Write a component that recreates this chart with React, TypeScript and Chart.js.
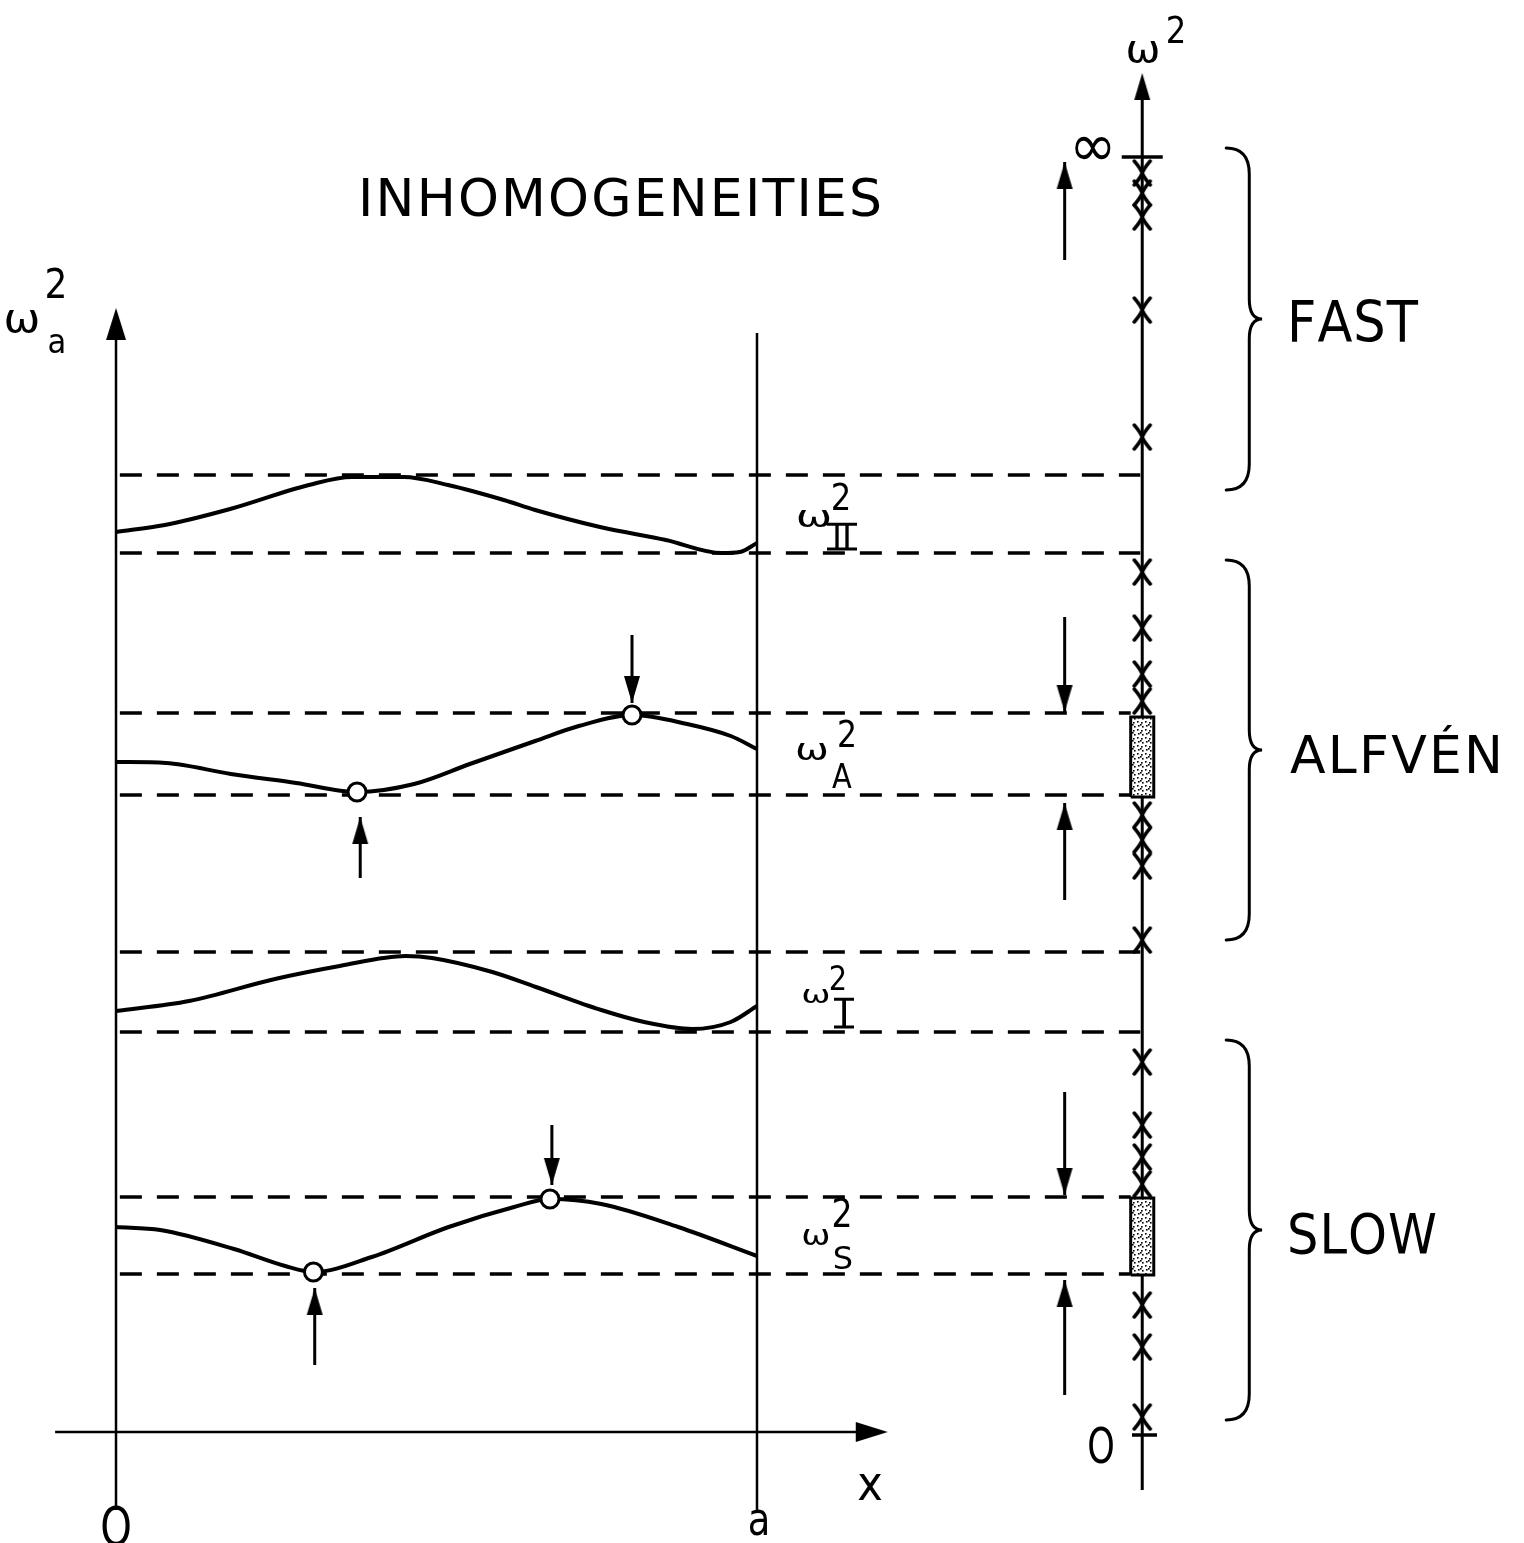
import React, { useEffect, useRef } from "react";
import { Chart, registerables } from "chart.js";

Chart.register(...registerables);

const W = 1524;
const H = 1543;

// Scale domain: x = position across the slab (0 = left wall, 1 = wall "a"), y = ω² (arbitrary units)
const X_MIN = -0.181;
const X_MAX = 2.1966;
const Y_MIN = -1.08;
const Y_MAX = 14.35;

// Continuum profiles ω²(x)
const profileIIx = [0, 0.076, 0.178, 0.301, 0.368, 0.449, 0.518, 0.605, 0.654, 0.755, 0.858, 0.945, 0.973, 1];
const profileIIy = [9.03, 9.1, 9.26, 9.5, 9.58, 9.58, 9.5, 9.35, 9.25, 9.08, 8.95, 8.82, 8.83, 8.92];

const profileAx = [0, 0.078, 0.179, 0.281, 0.376, 0.465, 0.552, 0.654, 0.722, 0.806, 0.891, 0.959, 1];
const profileAy = [6.73, 6.72, 6.61, 6.52, 6.43, 6.51, 6.71, 6.94, 7.09, 7.2, 7.11, 6.99, 6.86];

const profileIx = [0, 0.114, 0.248, 0.349, 0.452, 0.493, 0.587, 0.655, 0.757, 0.824, 0.899, 0.959, 1];
const profileIy = [4.24, 4.34, 4.56, 4.69, 4.79, 4.77, 4.63, 4.48, 4.25, 4.13, 4.06, 4.13, 4.29];

const profileSx = [0, 0.069, 0.184, 0.264, 0.309, 0.399, 0.519, 0.621, 0.678, 0.757, 0.877, 1];
const profileSy = [2.08, 2.05, 1.86, 1.69, 1.63, 1.78, 2.08, 2.28, 2.36, 2.31, 2.08, 1.79];

// Extremes of the Alfvén and slow profiles (circled)
const extremaX = [0.376, 0.805, 0.308, 0.677];
const extremaY = [6.43, 7.2, 1.63, 2.36];

// Range levels (max, min) of each profile
const levelsII = [9.6, 8.82];
const levelsA = [7.22, 6.4];
const levelsI = [4.83, 4.03];
const levelsS = [2.38, 1.61];

// Spectrum axis
const spectrumX = 1.601;
const fastModes = [12.62, 12.42, 12.18, 11.25, 9.98];
const alfvenModes = [8.63, 8.07, 7.61, 7.34, 6.2, 5.95, 5.69, 4.95];
const slowModes = [3.73, 3.1, 2.78, 2.51, 1.3, 0.88, 0.18];
const continuumA = [6.38, 7.18];
const continuumS = [1.6, 2.37];
const infinityLevel = 12.78;
const zeroLevel = 0;

// Arrows (x, from, to)
const arrowX = [0.805, 0.381, 0.68, 0.31, 1.48, 1.48, 1.48, 1.48, 1.48];
const arrowFrom = [8.0, 5.57, 3.1, 0.7, 11.75, 8.18, 5.35, 3.43, 0.4];
const arrowTo = [7.32, 6.18, 2.5, 1.47, 12.73, 7.23, 6.32, 2.4, 1.55];

// Braces (top, bottom) and their labels
const braceTop = [12.87, 8.75, 3.95];
const braceBottom = [9.45, 4.95, 0.15];
const braceLabels = ["FAST", "ALFVÉN", "SLOW"];

const FONT = '"DejaVu Sans", sans-serif';

const zip = (xs: number[], ys: number[]) => xs.map((x, i) => ({ x, y: ys[i] }));

function mkCanvas(w: number, h: number, draw: (g: CanvasRenderingContext2D) => void) {
  const c = document.createElement("canvas");
  c.width = w;
  c.height = h;
  const g = c.getContext("2d")!;
  draw(g);
  return c;
}

function txt(
  ctx: CanvasRenderingContext2D,
  s: string,
  cx: number,
  base: number,
  size: number,
  sx = 1,
  rot = 0
) {
  ctx.save();
  ctx.font = `${size}px ${FONT}`;
  ctx.textAlign = "center";
  ctx.textBaseline = "alphabetic";
  ctx.fillStyle = "#000";
  ctx.translate(cx, base);
  if (rot) ctx.rotate(rot);
  ctx.scale(sx, 1);
  ctx.fillText(s, 0, 0);
  ctx.restore();
}

// Roman numeral subscript: letters with a bar above and below
function roman(ctx: CanvasRenderingContext2D, s: string, cx: number, base: number, size: number, half: number) {
  txt(ctx, s, cx, base, size, 1);
  const cap = size * 0.73;
  ctx.save();
  ctx.strokeStyle = "#000";
  ctx.lineWidth = 3;
  ctx.beginPath();
  ctx.moveTo(cx - half, base - cap);
  ctx.lineTo(cx + half, base - cap);
  ctx.moveTo(cx - half, base);
  ctx.lineTo(cx + half, base);
  ctx.stroke();
  ctx.restore();
}

function spaced(ctx: CanvasRenderingContext2D, s: string, left: number, right: number, base: number, size: number) {
  ctx.save();
  ctx.font = `${size}px ${FONT}`;
  ctx.textAlign = "left";
  ctx.textBaseline = "alphabetic";
  ctx.fillStyle = "#000";
  const chars = Array.from(s);
  const ws = chars.map((c) => ctx.measureText(c).width);
  const nat = ws.reduce((a, b) => a + b, 0);
  let gap = (right - left - nat) / (chars.length - 1);
  let sx = 1;
  if (gap < 1) {
    sx = (right - left - (chars.length - 1)) / nat;
    gap = 1;
  }
  let x = left;
  chars.forEach((c, i) => {
    ctx.save();
    ctx.translate(x, base);
    ctx.scale(sx, 1);
    ctx.fillText(c, 0, 0);
    ctx.restore();
    x += ws[i] * sx + gap;
  });
  ctx.restore();
}

const labelsPlugin = {
  id: "labels",
  afterDraw(chart: any) {
    const ctx: CanvasRenderingContext2D = chart.ctx;
    const xs = chart.scales.x;
    const ys = chart.scales.y;

    // Braces
    ctx.save();
    ctx.strokeStyle = "#000";
    ctx.lineWidth = 3;
    ctx.lineCap = "round";
    const xl = xs.getPixelForValue(1.732);
    const xsp = xs.getPixelForValue(1.768);
    const xt = xs.getPixelForValue(1.788);
    braceTop.forEach((t, i) => {
      const top = ys.getPixelForValue(t);
      const bot = ys.getPixelForValue(braceBottom[i]);
      const mid = (top + bot) / 2;
      const r = 26;
      const rm = 20;
      ctx.beginPath();
      ctx.moveTo(xl, top);
      ctx.quadraticCurveTo(xsp, top, xsp, top + r);
      ctx.lineTo(xsp, mid - rm);
      ctx.quadraticCurveTo(xsp, mid, xt, mid);
      ctx.quadraticCurveTo(xsp, mid, xsp, mid + rm);
      ctx.lineTo(xsp, bot - r);
      ctx.quadraticCurveTo(xsp, bot, xl, bot);
      ctx.stroke();
    });
    ctx.restore();

    // Title and brace labels
    spaced(ctx, "INHOMOGENEITIES", 358, 882, 216, 52);
    spaced(ctx, braceLabels[0], 1287, 1418, 342, 57);
    spaced(ctx, braceLabels[1], 1290, 1503, 773, 52);
    spaced(ctx, braceLabels[2], 1287, 1437, 1253, 55);

    // ω_a² (vertical axis label)
    txt(ctx, "ω", 22, 332, 40, 1.1);
    txt(ctx, "2", 56, 298, 40, 0.9);
    txt(ctx, "a", 57, 353, 34, 0.9);

    // ω_II²
    txt(ctx, "ω", 814, 527, 30, 1.45);
    txt(ctx, "2", 841, 510, 38, 0.85);
    roman(ctx, "II", 842, 549, 34, 15);
    // ω_A²
    txt(ctx, "ω", 812, 760, 30, 1.35);
    txt(ctx, "2", 847, 747, 37, 0.85);
    txt(ctx, "A", 842, 788, 34, 0.85);
    // ω_I²
    txt(ctx, "ω", 816, 1003, 25, 1.4);
    txt(ctx, "2", 838, 990, 34, 0.85);
    roman(ctx, "I", 844, 1027, 38, 10);
    // ω_S²
    txt(ctx, "ω", 816, 1245, 28, 1.25);
    txt(ctx, "2", 842, 1227, 39, 0.85);
    txt(ctx, "S", 843, 1269, 32, 1.0);

    // Abscissa labels
    txt(ctx, "O", 116, 1545, 53, 0.76);
    txt(ctx, "a", 759, 1535, 46, 0.8);
    txt(ctx, "x", 870, 1500, 48, 0.9);

    // Spectrum axis labels
    txt(ctx, "ω", 1143, 62, 38, 1.1);
    txt(ctx, "2", 1176, 43, 38, 0.85);
    txt(ctx, "O", 1101, 1463, 50, 0.7);
    txt(ctx, "∞", 1093, 166, 60, 0.95);
  },
};

export default function App() {
  const ref = useRef<HTMLCanvasElement | null>(null);

  useEffect(() => {
    const canvas = ref.current!;
    const ctx0 = canvas.getContext("2d")!;

    const headBig = mkCanvas(22, 68, (g) => {
      g.fillStyle = "#000";
      g.beginPath();
      g.moveTo(11, 34);
      g.lineTo(21, 66);
      g.lineTo(1, 66);
      g.closePath();
      g.fill();
    });
    const headSmall = mkCanvas(18, 56, (g) => {
      g.fillStyle = "#000";
      g.beginPath();
      g.moveTo(9, 28);
      g.lineTo(17, 55);
      g.lineTo(1, 55);
      g.closePath();
      g.fill();
    });
    const markImg = mkCanvas(22, 28, (g) => {
      g.strokeStyle = "#000";
      g.lineWidth = 3.5;
      g.lineCap = "round";
      g.beginPath();
      g.moveTo(3, 2);
      g.quadraticCurveTo(9, 9, 11, 14);
      g.quadraticCurveTo(13, 9, 19, 2);
      g.moveTo(3, 26);
      g.quadraticCurveTo(9, 19, 11, 14);
      g.quadraticCurveTo(13, 19, 19, 26);
      g.stroke();
    });
    const patCanvas = mkCanvas(8, 8, (g) => {
      g.fillStyle = "#fff";
      g.fillRect(0, 0, 8, 8);
      g.fillStyle = "#000";
      [
        [1, 1],
        [5, 2],
        [2, 5],
        [6, 6],
        [4, 4],
      ].forEach(([a, b]) => g.fillRect(a, b, 1.6, 1.6));
    });
    const pattern = ctx0.createPattern(patCanvas, "repeat");

    const lineDs = (data: any[], extra: any = {}) => ({
      data,
      showLine: true,
      borderColor: "#000",
      borderWidth: 3,
      pointRadius: 0,
      fill: false,
      order: 2,
      ...extra,
    });

    const dashStart = 0.006;
    const dashEndAxis = 1.598;
    const dashEndRect = 1.583;
    const dashed = (lev: number, end: number) =>
      lineDs(
        [
          { x: dashStart, y: lev },
          { x: end, y: lev },
        ],
        { borderDash: [22, 15], borderWidth: 3.5 }
      );

    const rect = (r: number[]) =>
      lineDs(
        [
          { x: 1.583, y: r[0] },
          { x: 1.619, y: r[0] },
          { x: 1.619, y: r[1] },
          { x: 1.583, y: r[1] },
          { x: 1.583, y: r[0] },
        ],
        { fill: "shape", backgroundColor: pattern, borderWidth: 3, order: 1 }
      );

    const curve = (xs: number[], ys: number[]) =>
      lineDs(zip(xs, ys), { borderWidth: 4, cubicInterpolationMode: "monotone", order: 1 });

    const datasets: any[] = [
      // axes
      lineDs([
        { x: 0, y: -0.75 },
        { x: 0, y: 11.0 },
      ], { borderWidth: 2.5 }),
      lineDs([
        { x: 1, y: -0.75 },
        { x: 1, y: 11.02 },
      ], { borderWidth: 2.5 }),
      lineDs([
        { x: -0.095, y: 0.03 },
        { x: 1.18, y: 0.03 },
      ], { borderWidth: 2.5 }),
      lineDs([
        { x: spectrumX, y: -0.55 },
        { x: spectrumX, y: 13.4 },
      ], { borderWidth: 3 }),
      lineDs([
        { x: 1.569, y: infinityLevel },
        { x: 1.633, y: infinityLevel },
      ], { borderWidth: 3.5 }),
      lineDs([
        { x: 1.585, y: zeroLevel },
        { x: 1.624, y: zeroLevel },
      ], { borderWidth: 3.5 }),
      // axis arrowheads
      {
        data: [
          { x: 0, y: 11.27 },
          { x: 1.204, y: 0.03 },
        ],
        pointStyle: headBig,
        pointRotation: [0, 90],
        pointRadius: 6,
        order: 0,
      },
      {
        data: [{ x: spectrumX, y: 13.62 }],
        pointStyle: headSmall,
        pointRadius: 6,
        order: 0,
      },
      // range levels
      dashed(levelsII[0], dashEndAxis),
      dashed(levelsII[1], dashEndAxis),
      dashed(levelsA[0], dashEndRect),
      dashed(levelsA[1], dashEndRect),
      dashed(levelsI[0], dashEndAxis),
      dashed(levelsI[1], dashEndAxis),
      dashed(levelsS[0], dashEndRect),
      dashed(levelsS[1], dashEndRect),
      // profiles
      curve(profileIIx, profileIIy),
      curve(profileAx, profileAy),
      curve(profileIx, profileIy),
      curve(profileSx, profileSy),
      // continua on spectrum
      rect(continuumA),
      rect(continuumS),
      // discrete modes
      {
        data: [...fastModes, ...alfvenModes, ...slowModes].map((y) => ({ x: spectrumX, y })),
        pointStyle: markImg,
        pointRadius: 6,
        order: 0,
      },
      // extrema
      {
        data: zip(extremaX, extremaY),
        pointStyle: "circle",
        pointRadius: 9,
        pointBackgroundColor: "#fff",
        pointBorderColor: "#000",
        pointBorderWidth: 3,
        order: 0,
      },
    ];

    // arrows
    arrowX.forEach((x, i) => {
      datasets.push(
        lineDs([
          { x, y: arrowFrom[i] },
          { x, y: arrowTo[i] },
        ], { borderWidth: 3 })
      );
    });
    datasets.push({
      data: arrowX.map((x, i) => ({ x, y: arrowTo[i] })),
      pointStyle: headSmall,
      pointRotation: arrowX.map((_, i) => (arrowTo[i] < arrowFrom[i] ? 180 : 0)),
      pointRadius: 6,
      order: 0,
    });

    const chart = new Chart(canvas, {
      type: "scatter",
      data: { datasets },
      options: {
        responsive: false,
        animation: false,
        devicePixelRatio: 1,
        events: [],
        layout: { padding: 0, autoPadding: false },
        plugins: { legend: { display: false }, tooltip: { enabled: false } },
        scales: {
          x: { type: "linear", min: X_MIN, max: X_MAX, display: false },
          y: { type: "linear", min: Y_MIN, max: Y_MAX, display: false },
        },
      } as any,
      plugins: [labelsPlugin],
    });
    return () => chart.destroy();
  }, []);

  return (
    <div style={{ position: "absolute", left: 0, top: 0, width: W, height: H, background: "#fff" }}>
      <canvas ref={ref} width={W} height={H} style={{ display: "block", width: W, height: H }} />
    </div>
  );
}
